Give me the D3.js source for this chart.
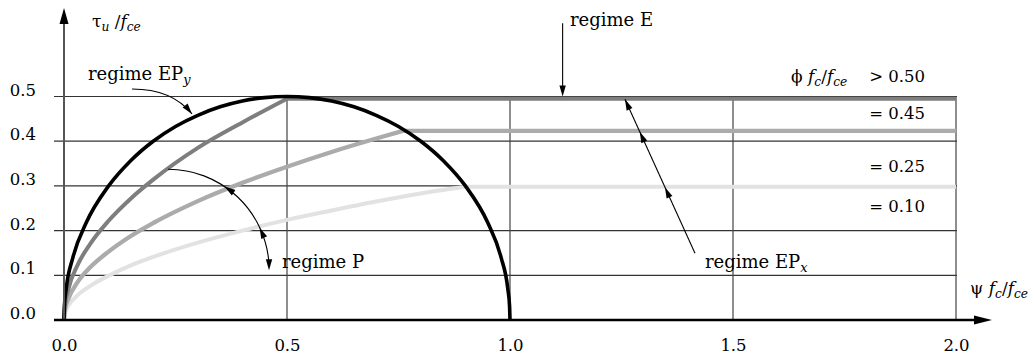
<!DOCTYPE html>
<html>
<head>
<meta charset="utf-8">
<script src="https://cdn.jsdelivr.net/npm/d3@7"></script>
<style>
  html, body { margin: 0; padding: 0; background: #fff; }
  svg { display: block; font-family: "DejaVu Serif", serif; }
</style>
</head>
<body>
<svg id="chart" width="1031" height="359"></svg>
<script>
// Axis ticks
const psiTicks = [0, 0.5, 1.0, 1.5, 2.0];
const tauTicks = [0, 0.1, 0.2, 0.3, 0.4, 0.5];
const tauGrid = [0.1, 0.2, 0.3, 0.4, 0.5];

// Labels of the reinforcement levels (right column)
const phiLabels = ["> 0.50", "= 0.45", "= 0.25", "= 0.10"];
const phiLabelTau = [0.532, 0.449, 0.331, 0.2417];

// Ultimate shear strength curves, [psi*fc/fce, tau_u/fce]
const circleCurve = [
  [0, 0], [0.001, 0.0316], [0.005, 0.0705], [0.02, 0.14], [0.05, 0.218],
  [0.1, 0.3], [0.15, 0.357], [0.2, 0.4], [0.25, 0.433], [0.3, 0.458],
  [0.35, 0.477], [0.4, 0.49], [0.45, 0.4975], [0.5, 0.5], [0.55, 0.4975],
  [0.6, 0.49], [0.65, 0.477], [0.7, 0.458], [0.75, 0.433], [0.8, 0.4],
  [0.85, 0.357], [0.9, 0.3], [0.95, 0.218], [0.98, 0.14], [0.995, 0.0705],
  [0.999, 0.0316], [1.0, 0]
];
// rising branch of each level, then its plateau end point
const curveHigh = [
  [0, 0], [0.002, 0.032], [0.01, 0.07], [0.03, 0.122], [0.06, 0.172],
  [0.1, 0.222], [0.15, 0.272], [0.2, 0.314], [0.3, 0.385], [0.4, 0.442],
  [0.5, 0.495]
];
const plateauHigh = [2.0, 0.495];
const curveMid = [
  [0, 0], [0.002, 0.022], [0.01, 0.048], [0.03, 0.084], [0.06, 0.119],
  [0.1, 0.153], [0.15, 0.188], [0.2, 0.217], [0.3, 0.266], [0.4, 0.307],
  [0.5, 0.343], [0.6, 0.376], [0.7, 0.406], [0.76, 0.423]
];
const plateauMid = [2.0, 0.423];
const curveLow = [
  [0, 0], [0.002, 0.014], [0.01, 0.032], [0.03, 0.055], [0.06, 0.077],
  [0.1, 0.099], [0.15, 0.122], [0.2, 0.141], [0.3, 0.173], [0.4, 0.2],
  [0.5, 0.224], [0.6, 0.245], [0.7, 0.265], [0.8, 0.283], [0.9, 0.298]
];
const plateauLow = [2.0, 0.298];

const svg = d3.select("#chart");
const x = d3.scaleLinear().domain([0, 2]).range([64, 956]);
const y = d3.scaleLinear().domain([0, 0.5]).range([320, 96.5]);

// ---- grid ----
const grid = svg.append("g");
grid.selectAll("line.h").data(tauGrid).join("line")
  .attr("x1", 54).attr("x2", 957)
  .attr("y1", d => y(d)).attr("y2", d => y(d))
  .attr("stroke", "#333").attr("stroke-width", 1.2);
grid.selectAll("line.v").data(psiTicks.slice(1)).join("line")
  .attr("x1", d => x(d)).attr("x2", d => x(d))
  .attr("y1", y(0.5)).attr("y2", y(0))
  .attr("stroke", "#444").attr("stroke-width", 1.2);

// ---- curves ----
const line = d3.line().x(d => x(d[0])).y(d => y(d[1])).curve(d3.curveMonotoneX);
const curves = [
  { data: curveLow, end: plateauLow, color: "#e2e2e2", w: 4 },
  { data: curveMid, end: plateauMid, color: "#ababab", w: 4.3 },
  { data: curveHigh, end: plateauHigh, color: "#7e7e7e", w: 4 },
  { data: circleCurve, end: null, color: "#000", w: 3.6 }
];
svg.append("g").selectAll("path").data(curves).join("path")
  .attr("d", d => line(d.data) + (d.end ? `L${x(d.end[0])},${y(d.end[1])}` : ""))
  .attr("fill", "none")
  .attr("stroke", d => d.color)
  .attr("stroke-width", d => d.w)
  .attr("stroke-linejoin", "round");

// ---- axes ----
const axes = svg.append("g");
axes.append("line")
  .attr("x1", x(0)).attr("x2", x(0)).attr("y1", y(0)).attr("y2", 20)
  .attr("stroke", "#555").attr("stroke-width", 2);
axes.append("path")
  .attr("d", `M${x(0)},8 L${x(0) - 4.5},24 L${x(0) + 4.5},24 Z`)
  .attr("fill", "#000");
axes.append("line")
  .attr("x1", 54).attr("x2", 978).attr("y1", y(0)).attr("y2", y(0))
  .attr("stroke", "#000").attr("stroke-width", 2.6);
axes.append("path")
  .attr("d", `M992,${y(0)} L974,${y(0) - 4.5} L974,${y(0) + 4.5} Z`)
  .attr("fill", "#000");

// tick labels
const xAxis = d3.axisBottom(x).tickValues(psiTicks).tickFormat(d3.format(".1f")).tickSize(0).tickPadding(0);
const gx = svg.append("g").attr("transform", `translate(0,${y(0)})`).call(xAxis);
gx.select(".domain").remove();
gx.selectAll("text").attr("dy", null).attr("y", 31)
  .attr("font-family", "DejaVu Serif").attr("font-size", 16.5).attr("fill", "#000");

const yAxis = d3.axisLeft(y).tickValues(tauTicks).tickFormat(d3.format(".1f")).tickSize(0).tickPadding(0);
const gy = svg.append("g").attr("transform", "translate(36,0)").call(yAxis);
gy.select(".domain").remove();
gy.selectAll("text").attr("dy", null).attr("y", -1.5)
  .attr("font-family", "DejaVu Serif").attr("font-size", 16.5).attr("fill", "#000");

// ---- text helpers ----
function richText(px, py, parts, size, anchor) {
  const t = svg.append("text").attr("x", px).attr("y", py)
    .attr("font-size", size).attr("fill", "#000")
    .attr("text-anchor", anchor || "start");
  parts.forEach(p => {
    const s = t.append("tspan").text(p.t);
    if (p.i) s.attr("font-style", "italic");
    if (p.sub) s.attr("font-size", size * 0.72).attr("dy", 4);
    if (p.up) s.attr("dy", -4);
  });
  return t;
}

// axis titles
richText(92, 27, [
  { t: "τ" }, { t: "u", i: true, sub: true }, { t: " /", up: true }, { t: "f", i: true },
  { t: "ce", i: true, sub: true }
], 17);
richText(970, 294, [
  { t: "ψ " }, { t: "f", i: true }, { t: "c", i: true, sub: true }, { t: "/", up: true },
  { t: "f", i: true }, { t: "ce", i: true, sub: true }
], 17);
richText(791, 82, [
  { t: "ϕ " }, { t: "f", i: true }, { t: "c", i: true, sub: true }, { t: "/", up: true },
  { t: "f", i: true }, { t: "ce", i: true, sub: true }
], 17);

// level labels
svg.append("g").selectAll("text").data(phiLabels).join("text")
  .attr("x", x(1.9305)).attr("y", (d, i) => y(phiLabelTau[i]))
  .attr("text-anchor", "end").attr("font-size", 16.5)
  .text(d => d);

// ---- annotations ----
const ann = svg.append("g");
function arrowHead(tx, ty, angle) {
  // angle: direction the arrow points to (radians, screen coords)
  const L = 11, W = 3.2;
  const bx = tx - L * Math.cos(angle), by = ty - L * Math.sin(angle);
  const nx = -Math.sin(angle) * W, ny = Math.cos(angle) * W;
  ann.append("path")
    .attr("d", `M${tx},${ty} L${bx + nx},${by + ny} L${bx - nx},${by - ny} Z`)
    .attr("fill", "#000");
}

// regime EP_y
{
  const p0 = [x(0.1525), y(0.5168)], c = [x(0.2422), y(0.5168)], p1 = [x(0.287), y(0.4609)];
  ann.append("path").attr("d", `M${p0} Q${c} ${p1}`)
    .attr("fill", "none").attr("stroke", "#000").attr("stroke-width", 1.1);
  arrowHead(p1[0], p1[1], Math.atan2(p1[1] - c[1], p1[0] - c[0]));
  richText(x(0.0538), y(0.5369), [{ t: "regime EP" }, { t: "y", i: true, sub: true }], 18);
}

// regime E
{
  const p0 = [x(1.118), y(0.664)], p1 = [x(1.118), y(0.5)];
  ann.append("line").attr("x1", p0[0]).attr("y1", p0[1]).attr("x2", p1[0]).attr("y2", p1[1] - 8)
    .attr("stroke", "#000").attr("stroke-width", 1.1);
  arrowHead(p1[0], p1[1], Math.PI / 2);
  richText(x(1.1345), y(0.6577), [{ t: "regime E" }], 18);
}

// regime EP_x
{
  const p0 = [x(1.4148), y(0.1492)], p1 = [x(1.2578), y(0.4937)];
  ann.append("line").attr("x1", p0[0]).attr("y1", p0[1]).attr("x2", p1[0]).attr("y2", p1[1])
    .attr("stroke", "#000").attr("stroke-width", 1.1);
  const ang = Math.atan2(p1[1] - p0[1], p1[0] - p0[0]);
  [0.4937, 0.421, 0.297].forEach(tv => {
    const py = y(tv);
    const t = (py - p0[1]) / (p1[1] - p0[1]);
    arrowHead(p0[0] + t * (p1[0] - p0[0]), py, ang);
  });
  richText(x(1.4372), y(0.1157), [{ t: "regime EP" }, { t: "x", i: true, sub: true }], 18);
}

// regime P
{
  const cx = x(0.2332), cy = y(0.1111), r = x(0.2265) - x(0);
  const pt = deg => {
    const a = deg * Math.PI / 180;
    return [cx + r * Math.sin(a), cy - r * Math.cos(a)];
  };
  const s = pt(0), e = pt(90);
  ann.append("path").attr("d", `M${s} A${r},${r} 0 0 1 ${e[0]},${e[1] - 6}`)
    .attr("fill", "none").attr("stroke", "#000").attr("stroke-width", 1.1);
  [34, 65].forEach(dg => {
    const p = pt(dg), a = dg * Math.PI / 180;
    arrowHead(p[0], p[1], Math.atan2(-Math.sin(a), -Math.cos(a)));
  });
  arrowHead(e[0], e[1], Math.PI / 2);
  richText(x(0.4888), y(0.1157), [{ t: "regime P" }], 18);
}
</script>
</body>
</html>
